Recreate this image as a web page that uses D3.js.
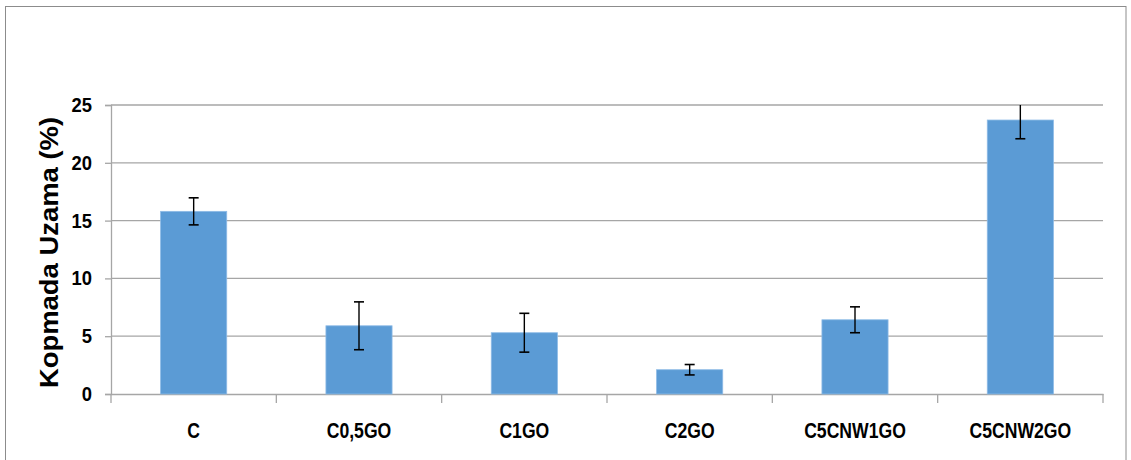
<!DOCTYPE html>
<html>
<head>
<meta charset="utf-8">
<script src="https://cdn.jsdelivr.net/npm/d3@7"></script>
<style>
  html, body { margin: 0; padding: 0; background: #fff; }
  svg { display: block; }
</style>
</head>
<body>
<svg id="chart" width="1131" height="460"></svg>
<script>
const categories = ["C", "C0,5GO", "C1GO", "C2GO", "C5CNW1GO", "C5CNW2GO"];
const values = [15.8, 5.9, 5.3, 2.1, 6.42, 23.7];
const errors = [1.17, 2.07, 1.68, 0.45, 1.12, 1.62];
const yTicks = [0, 5, 10, 15, 20, 25];
const yTitle = "Kopmada Uzama (%)";

(function () {
const svg = d3.select("#chart");
const pL = 111, pR = 1103, pT = 105, pB = 394;

// outer frame
svg.append("rect")
  .attr("x", 5.5).attr("y", 6.5)
  .attr("width", 1126 - 5.5).attr("height", 500)
  .attr("fill", "#fff").attr("stroke", "#8c8c8c").attr("stroke-width", 1);

const x = d3.scaleBand().domain(categories).range([pL, pR]).padding(0);
const y = d3.scaleLinear().domain([0, 25]).range([pB, pT]);

const font = "'Liberation Sans', Arial, sans-serif";

// gridlines
svg.append("g")
  .selectAll("line").data(yTicks.filter(d => d > 0)).join("line")
  .attr("x1", pL).attr("x2", pR)
  .attr("y1", d => y(d)).attr("y2", d => y(d))
  .attr("stroke", "#a6a6a6").attr("stroke-width", 1.3);

// y axis
const yAxis = svg.append("g")
  .attr("transform", `translate(${pL},0)`)
  .call(d3.axisLeft(y).tickValues(yTicks).tickSize(6).tickPadding(13).tickFormat(d3.format("d")));
yAxis.select(".domain").attr("stroke", "#a6a6a6").attr("stroke-width", 1.3);
yAxis.selectAll(".tick line").attr("stroke", "#a6a6a6").attr("stroke-width", 1.3);
yAxis.selectAll(".tick text")
  .attr("fill", "#000")
  .style("font-family", font).style("font-weight", "bold").style("font-size", "20px")
  .each(function() {
    const len = this.getComputedTextLength();
    d3.select(this).attr("textLength", len * 0.92).attr("lengthAdjust", "spacingAndGlyphs");
  });

// x axis
const xAxis = svg.append("g")
  .attr("transform", `translate(0,${pB})`)
  .call(d3.axisBottom(x).tickSize(0).tickPadding(28));
xAxis.select(".domain").attr("stroke", "#a6a6a6").attr("stroke-width", 1.3);
xAxis.selectAll(".tick text")
  .attr("fill", "#000")
  .style("font-family", font).style("font-weight", "bold").style("font-size", "22px")
  .each(function() {
    const len = this.getComputedTextLength();
    d3.select(this).attr("textLength", len * 0.8).attr("lengthAdjust", "spacingAndGlyphs");
  });
// category boundary ticks
const bounds = categories.map(c => x(c)).concat([x.range()[1]]);
svg.append("g").selectAll("line").data(bounds).join("line")
  .attr("x1", d => d).attr("x2", d => d)
  .attr("y1", pB).attr("y2", pB + 9)
  .attr("stroke", "#a6a6a6").attr("stroke-width", 1.3);

// bars
const bw = x.bandwidth() * 0.4;
svg.append("g").selectAll("rect").data(categories).join("rect")
  .attr("x", (c) => x(c) + (x.bandwidth() - bw) / 2)
  .attr("width", bw)
  .attr("y", (c, i) => y(values[i]))
  .attr("height", (c, i) => y(0) - y(values[i]))
  .attr("fill", "#5b9bd5")
  .attr("stroke", "#8dbbe6").attr("stroke-width", 0.8);

// clip for error bars
svg.append("clipPath").attr("id", "plotclip")
  .append("rect").attr("x", pL).attr("y", pT).attr("width", pR - pL).attr("height", pB - pT);

const eg = svg.append("g").attr("clip-path", "url(#plotclip)");
const cap = 5;
categories.forEach((c, i) => {
  const cx = x(c) + x.bandwidth() / 2;
  const y1 = y(values[i] + errors[i]);
  const y2 = y(values[i] - errors[i]);
  eg.append("line").attr("x1", cx).attr("x2", cx).attr("y1", y1).attr("y2", y2)
    .attr("stroke", "#000").attr("stroke-width", 1.4);
  [y1, y2].forEach(yy => {
    eg.append("line").attr("x1", cx - cap).attr("x2", cx + cap).attr("y1", yy).attr("y2", yy)
      .attr("stroke", "#000").attr("stroke-width", 1.6);
  });
});

// y title
svg.append("text")
  .attr("transform", `translate(58,${(117 + 388) / 2}) rotate(-90)`)
  .attr("text-anchor", "middle")
  .attr("textLength", 271).attr("lengthAdjust", "spacingAndGlyphs")
  .style("font-family", font).style("font-weight", "bold").style("font-size", "25px")
  .attr("fill", "#000")
  .text(yTitle);
})();
</script>
</body>
</html>
